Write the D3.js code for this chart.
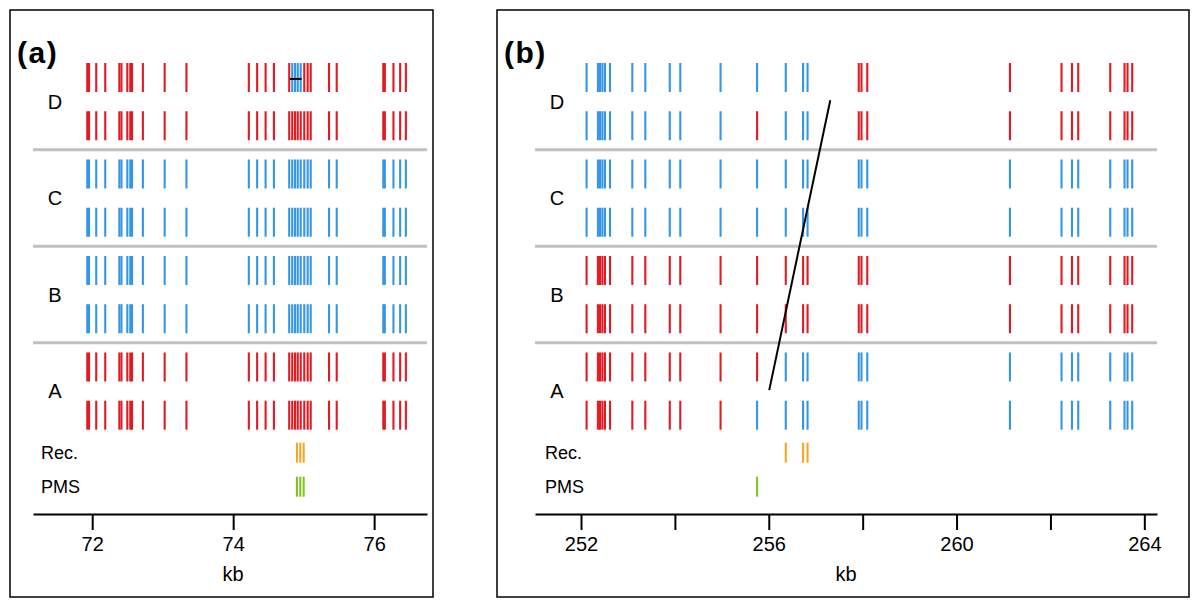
<!DOCTYPE html>
<html><head><meta charset="utf-8">
<script src="https://cdn.jsdelivr.net/npm/d3@7"></script>
<style>body{margin:0;background:#fff;} svg{display:block;font-family:"Liberation Sans",Arial,Helvetica,sans-serif;}</style>
</head><body>
<svg id="c" width="1200" height="603"></svg>
<script>
// ---------- data ----------
const rowNames = ["D1","D2","C1","C2","B1","B2","A1","A2"];
const strainLabels = ["D","C","B","A"];
const extraRows = ["Rec.","PMS"];

// panel (a) SNP positions (kb)
const kbA = [71.93, 71.955, 72.057, 72.185, 72.385, 72.415, 72.498, 72.54, 72.565, 72.719, 73.028, 73.337,
  74.222, 74.340, 74.460, 74.578, 74.795, 74.838, 74.878, 74.916, 74.958, 75.009, 75.057, 75.100,
  75.360, 75.469, 76.130, 76.152, 76.274, 76.369, 76.450];
// allele per row (R = red, B = blue)
const allelesA = [
  "RRRRRRRRRRRRRRRRRBBBBRRRRRRRRRR",
  "RRRRRRRRRRRRRRRRRRRRRRRRRRRRRRR",
  "BBBBBBBBBBBBBBBBBBBBBBBBBBBBBBB",
  "BBBBBBBBBBBBBBBBBBBBBBBBBBBBBBB",
  "BBBBBBBBBBBBBBBBBBBBBBBBBBBBBBB",
  "BBBBBBBBBBBBBBBBBBBBBBBBBBBBBBB",
  "RRRRRRRRRRRRRRRRRRRRRRRRRRRRRRR",
  "RRRRRRRRRRRRRRRRRRRRRRRRRRRRRRR"
];
const recA = [74.905, 74.952, 75.0];
const pmsA = [74.905, 74.952, 75.0];
const ticksA = [72, 74, 76];
// short black segment in (a): [kbStart, kbEnd, rowIndex]
const segA = [[74.805, 74.97, 0.03]];

// panel (b) SNP positions (kb)
const kbB = [252.119, 252.36, 252.405, 252.456, 252.51, 252.618, 253.093, 253.37, 253.891, 254.115,
  254.973, 255.751, 256.362, 256.731, 256.826, 257.917, 257.975, 258.098, 261.137,
  262.236, 262.458, 262.592, 263.274, 263.578, 263.642, 263.742];
const allelesB = [
  "BBBBBBBBBBBBBBBRRRRRRRRRRR",
  "BBBBBBBBBBBRBBBRRRRRRRRRRR",
  "BBBBBBBBBBBBBBBBBBBBBBBBBB",
  "BBBBBBBBBBBBBBBBBBBBBBBBBB",
  "RRRRRRRRRRRRRRRRRRRRRRRRRR",
  "RRRRRRRRRRRRRRRRRRRRRRRRRR",
  "RRRRRRRRRRRRBBBBBBBBBBBBBB",
  "RRRRRRRRRRRBBBBBBBBBBBBBBB"
];
const recB = [256.362, 256.731, 256.826];
const pmsB = [255.751];
const ticksB = [252, 254, 256, 258, 260, 262, 264];
const tickLabelsB = ["252", "", "256", "", "260", "", "264"];
// slanted black line in (b): [kbStart, rowStart, kbEnd, rowEnd]
const segB = [[256.01, 6.48, 257.31, 0.47]];

// ---------- drawing ----------
const colors = {R: "#e31a22", B: "#3396e6", rec: "#f5a623", pms: "#7cc61e"};
const svg = d3.select("#c");

const panels = [
  {label: "(a)", box: [10, 10, 433, 597], range: [33, 427], domain: [71.16, 76.75],
   kb: kbA, alleles: allelesA, rec: recA, pms: pmsA, ticks: ticksA, tickLabels: ticksA.map(String),
   segs: segA.map(s => [s[0], s[2], s[1], s[2]]), stripLabelX: 22, extraLabelX: 8},
  {label: "(b)", box: [497, 10, 1189, 597], range: [535, 1157], domain: [251.02, 264.27],
   kb: kbB, alleles: allelesB, rec: recB, pms: pmsB, ticks: ticksB, tickLabels: tickLabelsB,
   segs: segB, stripLabelX: 22, extraLabelX: 10}
];

const yRow = d3.scaleLinear().domain([0, 7]).range([77.5, 415.2]);
const yExtra = d3.scalePoint().domain(extraRows).range([452.7, 486.7]);
const rowH = 29, extraH = 20, axisY = 514;

panels.forEach(p => {
  const g = svg.append("g");
  const [bx0, by0, bx1, by1] = p.box;
  g.append("rect").attr("x", bx0).attr("y", by0).attr("width", bx1 - bx0).attr("height", by1 - by0)
    .attr("fill", "none").attr("stroke", "#000").attr("stroke-width", 1.5);
  g.append("text").attr("x", bx0 + 7).attr("y", 63).text(p.label)
    .attr("font-size", 30).attr("letter-spacing", 1.5).attr("font-weight", "bold").attr("fill", "#000");

  const x = d3.scaleLinear().domain(p.domain).range(p.range);

  // separators
  [1.5, 3.5, 5.5].forEach(r => {
    g.append("line").attr("x1", p.range[0]).attr("x2", p.range[1])
      .attr("y1", yRow(r)).attr("y2", yRow(r)).attr("stroke", "#c0c0c0").attr("stroke-width", 3);
  });

  // strain labels
  strainLabels.forEach((s, i) => {
    g.append("text").attr("x", p.range[0] + p.stripLabelX).attr("y", (yRow(2 * i) + yRow(2 * i + 1)) / 2)
      .attr("dy", "0.36em").attr("text-anchor", "middle").attr("font-size", 20).text(s);
  });
  extraRows.forEach(s => {
    g.append("text").attr("x", p.range[0] + p.extraLabelX).attr("y", yExtra(s))
      .attr("dy", "0.36em").attr("font-size", 18).text(s);
  });

  // SNP marks
  p.alleles.forEach((str, ri) => {
    g.append("g").selectAll("line").data(p.kb).join("line")
      .attr("x1", d => x(d)).attr("x2", d => x(d))
      .attr("y1", yRow(ri) - rowH / 2).attr("y2", yRow(ri) + rowH / 2)
      .attr("stroke", (d, i) => colors[str[i]]).attr("stroke-width", 2.1);
  });
  [["Rec.", p.rec, colors.rec], ["PMS", p.pms, colors.pms]].forEach(([name, arr, col]) => {
    g.append("g").selectAll("line").data(arr).join("line")
      .attr("x1", d => x(d)).attr("x2", d => x(d))
      .attr("y1", yExtra(name) - extraH / 2).attr("y2", yExtra(name) + extraH / 2)
      .attr("stroke", col).attr("stroke-width", 2.1);
  });

  // black segments
  g.append("g").selectAll("line").data(p.segs).join("line")
    .attr("x1", d => x(d[0])).attr("y1", d => yRow(d[1]))
    .attr("x2", d => x(d[2])).attr("y2", d => yRow(d[3]))
    .attr("stroke", "#000").attr("stroke-width", 2);

  // axis
  const axis = d3.axisBottom(x).tickValues(p.ticks).tickSize(16).tickSizeOuter(0).tickPadding(7)
    .tickFormat((d, i) => p.tickLabels[i]);
  const ag = g.append("g").attr("transform", `translate(0,${axisY})`).call(axis);
  ag.select(".domain").attr("stroke-width", 2);
  ag.selectAll(".tick line").attr("stroke-width", 2);
  ag.selectAll(".tick text").attr("font-size", 20).attr("font-family", "Liberation Sans, Arial, sans-serif").attr("fill", "#000");
  g.append("text").attr("x", (p.range[0] + p.range[1]) / 2 + (p.label === "(a)" ? 3 : 0)).attr("y", 581)
    .attr("text-anchor", "middle").attr("font-size", 20).text("kb");
});
</script>
</body></html>
